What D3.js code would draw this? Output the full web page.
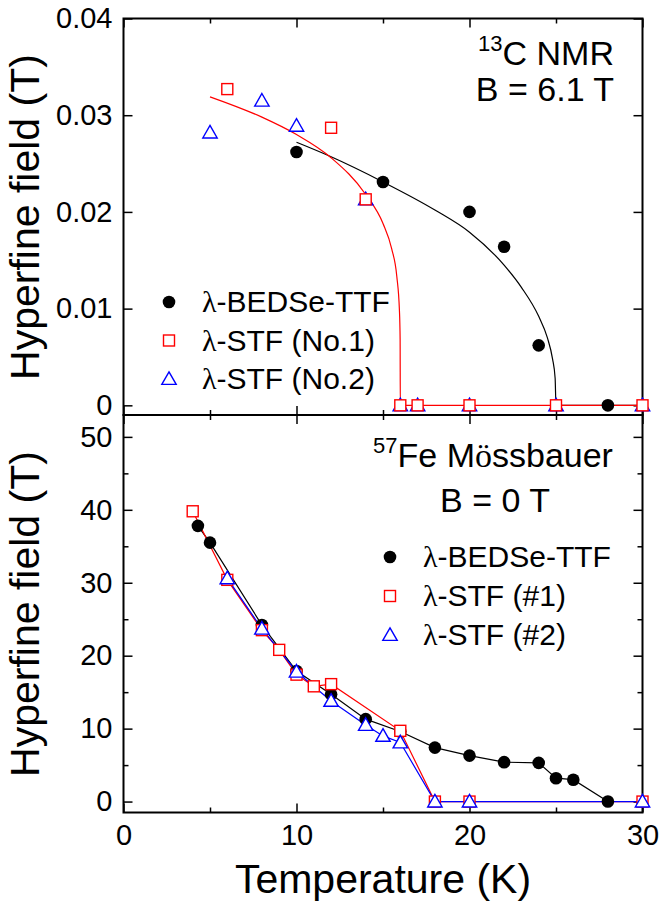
<!DOCTYPE html>
<html>
<head>
<meta charset="utf-8">
<script src="https://cdn.jsdelivr.net/npm/d3@7"></script>
<style>
  body { margin: 0; background: #fff; }
  svg { font-family: "Liberation Sans", Arial, sans-serif; }
</style>
</head>
<body>
<div id="chart"></div>
<script>
// ---- 13C NMR panel (B = 6.1 T) ----
const nmrBedseT = [10, 15, 20, 22, 24, 28];
const nmrBedseH = [0.0262, 0.0231, 0.0200, 0.0164, 0.0062, 0];
const nmrStf1T = [6, 12, 14, 16, 17, 20, 25, 30];
const nmrStf1H = [0.0327, 0.0287, 0.0213, 0, 0, 0, 0, 0];
const nmrStf2T = [5, 8, 10, 14, 16, 17, 20, 25, 30];
const nmrStf2H = [0.0282, 0.0315, 0.0289, 0.0213, 0, 0, 0, 0, 0];

// fit curves
const fitBedseT = [10, 12, 15, 18, 20, 22, 23, 24, 24.5, 24.8, 24.95, 25, 30];
const fitBedseH = [0.0272, 0.0257, 0.0231, 0.0202, 0.0179, 0.0145, 0.0122, 0.0092, 0.0070, 0.0048, 0.0028, 0, 0];
const fitStfT = [5, 8, 10, 12, 14, 15, 15.5, 15.8, 15.95, 15.99, 16, 30];
const fitStfH = [0.0319, 0.0298, 0.0280, 0.0256, 0.0218, 0.0188, 0.0162, 0.0133, 0.0098, 0.0068, 0, 0];

// ---- 57Fe Mossbauer panel (B = 0 T) ----
const mbBedseT = [4.3, 5, 8, 10, 12, 14, 16, 18, 20, 22, 24, 25, 26, 28];
const mbBedseH = [37.8, 35.5, 24.2, 17.9, 14.7, 11.3, 9.6, 7.4, 6.3, 5.4, 5.3, 3.2, 3.0, 0];
const mbStf1T = [4, 6, 8, 9, 10, 11, 12, 16, 18, 20, 30];
const mbStf1H = [39.8, 30.4, 23.5, 20.8, 17.4, 15.8, 16.1, 9.7, 0, 0, 0];
const mbStf2T = [6, 8, 10, 12, 14, 15, 16, 18, 20, 30];
const mbStf2H = [30.6, 23.7, 17.8, 13.8, 10.5, 9.0, 8.1, 0, 0, 0];

const xMajor = [0, 10, 20, 30];
const xMinor = [5, 15, 25];
const yTopTicks = [0, 0.01, 0.02, 0.03, 0.04];
const yBotMajor = [0, 10, 20, 30, 40, 50];
const yBotMinor = [5, 15, 25, 35, 45];

const nmrLegend = ["λ-BEDSe-TTF", "λ-STF (No.1)", "λ-STF (No.2)"];
const mbLegend = ["λ-BEDSe-TTF", "λ-STF (#1)", "λ-STF (#2)"];

const zip = (xs, ys) => xs.map((x, i) => [x, ys[i]]);

const width = 659, height = 906;
const left = 123.5, right = 642.5;
const topY0 = 18.5, midY = 415, botY = 812.5;

const svg = d3.select("#chart").append("svg")
  .attr("width", width).attr("height", height);

const x = d3.scaleLinear().domain([0, 30]).range([left, right]);
const yTop = d3.scaleLinear().domain([-0.001, 0.04]).range([midY, topY0]);
const yBot = d3.scaleLinear().domain([-1.5, 53]).range([botY, midY]);

const TICK = 9, MINOR = 5;

function styleAxis(g) {
  g.select(".domain").remove();
  g.selectAll(".tick line").attr("stroke", "#000").attr("stroke-width", 1.5);
  g.selectAll(".tick text").attr("fill", "#000").style("font-size", "29px")
    .style("font-family", "'Liberation Sans', Arial, sans-serif");
}

function drawAxes(y, yMajor, yMinor, fmt, yA, yB, xLabels) {
  // left
  svg.append("g").attr("transform", `translate(${left},0)`)
    .call(d3.axisLeft(y).tickValues(yMajor).tickFormat(fmt).tickSizeInner(-TICK).tickSizeOuter(0).tickPadding(11))
    .call(styleAxis);
  // right
  svg.append("g").attr("transform", `translate(${right},0)`)
    .call(d3.axisRight(y).tickValues(yMajor).tickFormat("").tickSizeInner(-TICK).tickSizeOuter(0))
    .call(styleAxis);
  if (yMinor.length) {
    svg.append("g").attr("transform", `translate(${left},0)`)
      .call(d3.axisLeft(y).tickValues(yMinor).tickFormat("").tickSizeInner(-MINOR).tickSizeOuter(0))
      .call(styleAxis);
    svg.append("g").attr("transform", `translate(${right},0)`)
      .call(d3.axisRight(y).tickValues(yMinor).tickFormat("").tickSizeInner(-MINOR).tickSizeOuter(0))
      .call(styleAxis);
  }
  // top edge of panel
  svg.append("g").attr("transform", `translate(0,${yA})`)
    .call(d3.axisTop(x).tickValues(xMajor).tickFormat("").tickSizeInner(-TICK).tickSizeOuter(0))
    .call(styleAxis);
  svg.append("g").attr("transform", `translate(0,${yA})`)
    .call(d3.axisTop(x).tickValues(xMinor).tickFormat("").tickSizeInner(-MINOR).tickSizeOuter(0))
    .call(styleAxis);
  // bottom edge of panel
  svg.append("g").attr("transform", `translate(0,${yB})`)
    .call(d3.axisBottom(x).tickValues(xMajor).tickFormat(xLabels ? d3.format("d") : "")
      .tickSizeInner(-TICK).tickSizeOuter(0).tickPadding(12))
    .call(styleAxis);
  svg.append("g").attr("transform", `translate(0,${yB})`)
    .call(d3.axisBottom(x).tickValues(xMinor).tickFormat("").tickSizeInner(-MINOR).tickSizeOuter(0))
    .call(styleAxis);
}

drawAxes(yTop, yTopTicks, [], d => d === 0 ? "0" : d3.format(".2f")(d), topY0, midY, false);
drawAxes(yBot, yBotMajor, yBotMinor, d3.format("d"), midY, botY, true);

// frames
svg.append("rect").attr("x", left).attr("y", topY0).attr("width", right - left).attr("height", midY - topY0)
  .attr("fill", "none").attr("stroke", "#000").attr("stroke-width", 2);
svg.append("rect").attr("x", left).attr("y", midY).attr("width", right - left).attr("height", botY - midY)
  .attr("fill", "none").attr("stroke", "#000").attr("stroke-width", 2);

// markers
function marker(g, type, color, cx, cy) {
  if (type === "circle") {
    g.append("circle").attr("cx", cx).attr("cy", cy).attr("r", 6.3).attr("fill", "#000");
  } else if (type === "square") {
    g.append("rect").attr("x", cx - 5.5).attr("y", cy - 5.5).attr("width", 11).attr("height", 11)
      .attr("fill", "#fff").attr("stroke", color).attr("stroke-width", 1.4);
  } else {
    const s = 7.2;
    g.append("path")
      .attr("d", `M${cx},${cy - s}L${cx + s},${cy + s * 0.75}L${cx - s},${cy + s * 0.75}Z`)
      .attr("fill", "#fff").attr("stroke", color).attr("stroke-width", 1.4);
  }
}

function drawPoints(pts, y, type, color) {
  const g = svg.append("g");
  pts.forEach(p => marker(g, type, color, x(p[0]), y(p[1])));
}

function drawLine(pts, y, color, curve) {
  const line = d3.line().x(d => x(d[0])).y(d => y(d[1]));
  if (curve) line.curve(curve);
  svg.append("path").datum(pts).attr("d", line)
    .attr("fill", "none").attr("stroke", color).attr("stroke-width", 1.2);
}

// top panel
drawLine(zip(fitBedseT, fitBedseH), yTop, "#000", d3.curveMonotoneX);
drawLine(zip(fitStfT, fitStfH), yTop, "#ff0000", d3.curveMonotoneX);
drawPoints(zip(nmrBedseT, nmrBedseH), yTop, "circle", "#000");
drawPoints(zip(nmrStf2T, nmrStf2H), yTop, "triangle", "#0000ff");
drawPoints(zip(nmrStf1T, nmrStf1H), yTop, "square", "#ff0000");

// bottom panel
drawLine(zip(mbBedseT, mbBedseH), yBot, "#000");
drawLine(zip(mbStf1T, mbStf1H), yBot, "#ff0000");
drawLine(zip(mbStf2T, mbStf2H), yBot, "#0000ff");
drawPoints(zip(mbBedseT, mbBedseH), yBot, "circle", "#000");
drawPoints(zip(mbStf1T, mbStf1H), yBot, "square", "#ff0000");
drawPoints(zip(mbStf2T, mbStf2H), yBot, "triangle", "#0000ff");

// legends
const legendTypes = [["circle", "#000"], ["square", "#ff0000"], ["triangle", "#0000ff"]];
function drawLegend(labels, mx, tx, y0, step) {
  const g = svg.append("g");
  labels.forEach((lab, i) => {
    const by = y0 + i * step;
    marker(g, legendTypes[i][0], legendTypes[i][1], mx, by - 10);
    const t = g.append("text").attr("x", tx).attr("y", by).style("font-size", "30px").attr("fill", "#000");
    t.append("tspan").style("font-family", "'Liberation Serif', serif").text(lab[0]);
    t.append("tspan").text(lab.slice(1));
  });
}
drawLegend(nmrLegend, 169, 202, 312, 38.5);
drawLegend(mbLegend, 390, 423, 567, 39);

// annotations
function superLabel(cx, y, sup, rest, extra) {
  const t = svg.append("text").attr("x", cx).attr("y", y).attr("text-anchor", "middle")
    .style("font-size", "34px").attr("fill", "#000");
  t.append("tspan").attr("dy", -14).style("font-size", "22px").text(sup);
  t.append("tspan").attr("dy", 14).text(rest);
  if (extra) extra(t);
}
superLabel(546, 65, "13", "C NMR");
svg.append("text").attr("x", 545).attr("y", 101).attr("text-anchor", "middle")
  .style("font-size", "34px").text("B = 6.1 T");

superLabel(493, 467, "57", "Fe M", t => {
  t.append("tspan").style("font-family", "'Liberation Serif', serif").text("ö");
  t.append("tspan").text("ssbauer");
});
svg.append("text").attr("x", 495).attr("y", 512).attr("text-anchor", "middle")
  .style("font-size", "34px").text("B = 0 T");

// axis titles
[[217], [614]].forEach(([cy]) => {
  svg.append("text").attr("transform", `translate(39,${cy}) rotate(-90)`)
    .attr("text-anchor", "middle").style("font-size", "41px").text("Hyperfine field (T)");
});
svg.append("text").attr("x", 383).attr("y", 893).attr("text-anchor", "middle")
  .style("font-size", "41px").text("Temperature (K)");
</script>
</body>
</html>
